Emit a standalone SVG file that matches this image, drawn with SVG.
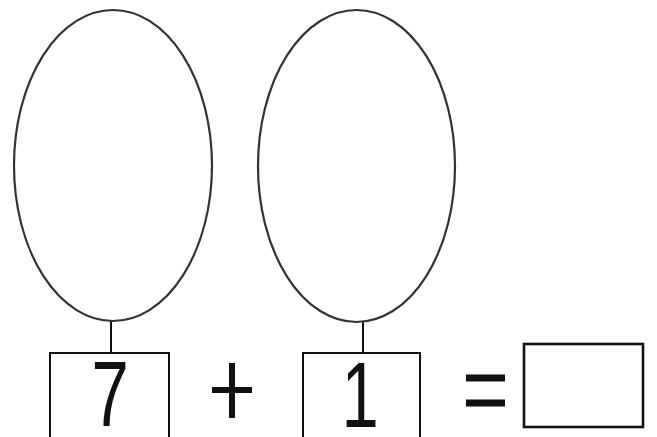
<svg xmlns="http://www.w3.org/2000/svg" width="657" height="437" viewBox="0 0 657 437">
<style>
.oval{fill:none;stroke:#333;stroke-width:2.2}
.box{fill:#fff;stroke:#111;stroke-width:2}
.conn{stroke:#111;stroke-width:2}
.num{font-family:"Liberation Sans",Arial,sans-serif;font-size:93px;fill:#111;text-anchor:middle}
.op{stroke:#111;stroke-width:6}
</style>
<rect width="657" height="437" fill="#fff"/>
<g id="connectors">
<line class="conn" x1="111" y1="321" x2="111" y2="353"/>
<line class="conn" x1="363" y1="322" x2="363" y2="353"/>
</g>
<g id="oval1"><ellipse class="oval" cx="113" cy="165.5" rx="99" ry="155.5"/></g>
<g id="oval2"><ellipse class="oval" cx="356.5" cy="166" rx="98.5" ry="156"/></g>
<g id="box7">
<rect class="box" x="50" y="353" width="119" height="90"/>
<text class="num" transform="translate(110,426) scale(0.72,1)" x="0" y="0">7</text>
</g>
<g id="plus">
<line class="op" x1="212" y1="390" x2="252" y2="390"/>
<line class="op" x1="232" y1="363" x2="232" y2="418"/>
</g>
<g id="box1">
<rect class="box" x="303" y="353" width="117" height="90"/>
<text class="num" transform="translate(360,427) scale(0.72,1)" x="0" y="0">1</text>
</g>
<g id="equals">
<line class="op" x1="466" y1="378" x2="505" y2="378" style="stroke-width:7"/>
<line class="op" x1="466" y1="403" x2="505" y2="403" style="stroke-width:7"/>
</g>
<g id="answer"><rect class="box" x="524" y="344" width="119" height="83" style="stroke-width:2.6"/></g>
</svg>
